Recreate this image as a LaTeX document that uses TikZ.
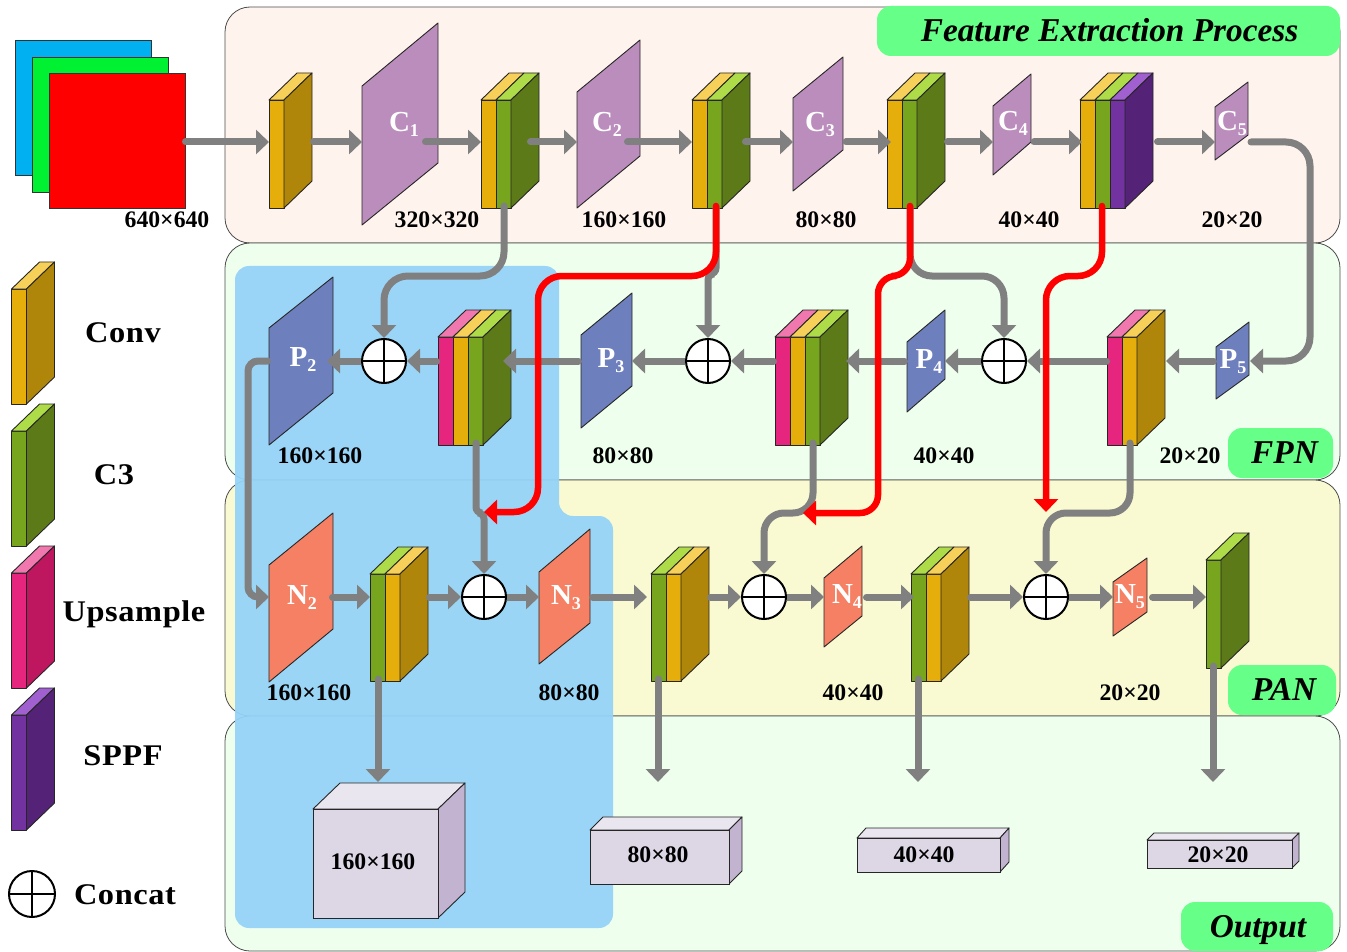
\documentclass[tikz,border=0pt]{standalone}
\usepackage{fontspec}
\setmainfont{Liberation Serif}
\newfontfamily\widefont[FakeStretch=1.08,LetterSpace=2]{Liberation Serif}
\usetikzlibrary{arrows.meta,calc}
\definecolor{oF}{HTML}{E5AE0B}\definecolor{oT}{HTML}{F7D05A}\definecolor{oS}{HTML}{B0860A}
\definecolor{gF}{HTML}{78A51E}\definecolor{gT}{HTML}{AEDC48}\definecolor{gS}{HTML}{5C7A18}
\definecolor{pF}{HTML}{E6257E}\definecolor{pT}{HTML}{F178AF}\definecolor{pS}{HTML}{BE1760}
\definecolor{vF}{HTML}{7232A0}\definecolor{vT}{HTML}{A060CF}\definecolor{vS}{HTML}{542276}
\definecolor{cfill}{HTML}{BB8DBD}\definecolor{pfill}{HTML}{6E7FBD}\definecolor{nfill}{HTML}{F58063}
\definecolor{arrowgray}{HTML}{808080}
\definecolor{tagGreen}{HTML}{66FF88}
\definecolor{blueRegion}{HTML}{95D3F8}
\definecolor{panelA}{HTML}{FFF3EE}\definecolor{panelB}{HTML}{EEFFEE}\definecolor{panelC}{HTML}{F9F9D2}
\definecolor{cubeF}{HTML}{DCD6E5}\definecolor{cubeT}{HTML}{EAE6F0}\definecolor{cubeS}{HTML}{C2B3D0}
\newcommand\fs[1]{\fontsize{#1}{#1}\selectfont}
\tikzset{
  blockline/.style={draw=black!85,line width=0.9pt,line join=round},
  anchorbox/.style={inner sep=0pt,outer sep=0pt,anchor=north west},
  panel/.style={anchorbox,draw=black!70,line width=0.8pt,rounded corners=25pt},
  tag/.style={anchorbox,fill=tagGreen,rounded corners=14pt},
  tagtext/.style={font=\fs{33.3}\bfseries\itshape,inner sep=0pt},
  conn/.style={draw=arrowgray,line width=7pt,line cap=round,-{Triangle[length=13pt,width=24pt]}},
  flat/.style={line cap=butt},
  redconn/.style={draw=red,line width=6.5pt,line cap=round,-{Triangle[length=13pt,width=24pt]}},
  concat/.style={circle,draw=black,line width=2pt,fill=white,minimum size=44pt,inner sep=0pt},
  sizelab/.style={font=\fs{23.7}\bfseries,inner sep=0pt},
  leglab/.style={font=\fs{30}\bfseries\widefont,inner sep=0pt},
  planelab/.style={text=white,font=\fs{29}\bfseries,inner sep=0pt},
}
% name, x, y of back top, front height, layers
\newcommand\mkblock[5]{%
  \foreach \c [count=\i from 0] in {#5}{%
    \pgfmathsetmacro\xa{#2+15*\i}\pgfmathsetmacro\xb{\xa+15}%
    \draw[blockline,fill=\c F] (\xa,#3+27) rectangle (\xb,#3+27+#4);
    \draw[blockline,fill=\c T] (\xa,#3+27) -- ++(28,-27) -- ++(15,0) -- ++(-28,27) -- cycle;
    \xdef\lastx{\xb}\xdef\lastc{\c}%
  }%
  \draw[blockline,fill=\lastc S] (\lastx,#3+27) -- ++(28,-27) -- ++(0,#4) -- ++(-28,27) -- cycle;
  \node[anchorbox,minimum width={(\lastx+28-#2)*1pt},minimum height={(#4+27)*1pt}] (#1) at (#2,#3) {};
}
% name, xl, xr, yl top, yr top, yr bottom, yl bottom, fill
\newcommand\mkplane[8]{%
  \draw[blockline,fill=#8] (#2,#4) -- (#3,#5) -- (#3,#6) -- (#2,#7) -- cycle;
  \node[anchorbox,minimum width={(#3-#2)*1pt},minimum height={(#7-#5)*1pt}] (#1) at (#2,#5) {};
}
\newcommand\lab[2]{#1\raisebox{-5pt}{\fs{18}#2}}
% name, x front left, x front right, back top, front top, bottom, dx
\newcommand\mkcube[7]{%
  \draw[blockline,fill=cubeT] (#2,#5) -- (#2+#7,#4) -- (#3+#7,#4) -- (#3,#5) -- cycle;
  \draw[blockline,fill=cubeS] (#3,#5) -- (#3+#7,#4) -- (#3+#7,#6-#5+#4) -- (#3,#6) -- cycle;
  \node[anchorbox,draw=black!85,line width=0.9pt,fill=cubeF,minimum width={(#3-#2)*1pt},minimum height={(#6-#5)*1pt}] (#1) at (#2,#5) {};
}
\newcommand\mkconcat[4][concat]{%
  \node[#1] (#2) at (#3,#4) {};
  \draw[line width=2pt] (#2.north) -- (#2.south) (#2.west) -- (#2.east);
}
\begin{document}
\begin{tikzpicture}[x=1pt,y=-1pt]
\useasboundingbox (0,0) rectangle (1347,952);
% panels
\node[panel,fill=panelA,minimum width=1115pt,minimum height=236pt] (panelTop) at (225,7) {};
\node[panel,fill=panelB,minimum width=1115pt,minimum height=237pt] (panelFpn) at (225,243) {};
\node[panel,fill=panelC,minimum width=1115pt,minimum height=236pt] (panelPan) at (225,480) {};
\node[panel,fill=panelB,minimum width=1115pt,minimum height=235pt] (panelOut) at (225,716) {};
% blue region
\fill[blueRegion,fill opacity=0.94,rounded corners=14pt] (400,266) -- (559,266) -- (559,516) -- (613,516) -- (613,928) -- (235,928) -- (235,266) -- cycle;
% tags
\node[tag,minimum width=463pt,minimum height=50pt] (tagFeat) at (877,6) {};
\node[tagtext] (tagFeatText) at (1109.5,30.5) {Feature Extraction Process};
\node[tag,minimum width=105pt,minimum height=50pt] (tagFpn) at (1228,428) {};
\node[tagtext] (tagFpnText) at (1284.5,453) {FPN};
\node[tag,minimum width=108pt,minimum height=50pt] (tagPan) at (1228,665) {};
\node[tagtext] (tagPanText) at (1284,690) {PAN};
\node[tag,minimum width=152pt,minimum height=49pt] (tagOut) at (1181,902) {};
\node[tagtext] (tagOutText) at (1258,930) {Output};
% input
\node[anchorbox,draw=black!80,fill={rgb,255:red,0;green,176;blue,240},minimum width=136pt,minimum height=135pt] (inB) at (15,40) {};
\node[anchorbox,draw=black!80,fill={rgb,255:red,0;green,240;blue,50},minimum width=136pt,minimum height=135pt] (inG) at (32,57) {};
\node[anchorbox,draw=black!80,fill=red,minimum width=136pt,minimum height=135pt] (inR) at (49,73) {};
% backbone
\mkblock{b1}{269}{73}{108}{o}
\mkplane{c1}{362}{438}{86}{23}{163}{225}{cfill}
\mkblock{b2}{481}{73}{108}{o,g}
\mkplane{c2}{577}{640}{92}{40}{156}{208}{cfill}
\mkblock{b3}{692}{73}{108}{o,g}
\mkplane{c3}{793}{843}{98}{57}{150}{191}{cfill}
\mkblock{b4}{887}{73}{108}{o,g}
\mkplane{c4}{993}{1031}{106}{74}{142}{175}{cfill}
\mkblock{b5}{1080}{73}{108}{o,g,v}
\mkplane{c5}{1215}{1248}{107}{82}{135}{160}{cfill}
% FPN
\mkplane{p2}{269}{333}{328}{277}{393}{445}{pfill}
\mkblock{f1}{438}{310}{108}{p,o,g}
\mkplane{p3}{581}{632}{335}{293}{386}{428}{pfill}
\mkblock{f2}{775}{310}{108}{p,o,g}
\mkplane{p4}{907}{945}{342}{310}{379}{412}{pfill}
\mkblock{f3}{1107}{310}{108}{p,o}
\mkplane{p5}{1216}{1249}{347}{322}{375}{399}{pfill}
% PAN
\mkplane{n2}{269}{333}{565}{513}{629}{682}{nfill}
\mkblock{a1}{370}{547}{107}{g,o}
\mkplane{n3}{539}{590}{572}{529}{623}{664}{nfill}
\mkblock{a2}{651}{547}{107}{g,o}
\mkplane{n4}{824}{862}{578}{546}{616}{647}{nfill}
\mkblock{a3}{911}{547}{107}{g,o}
\mkplane{n5}{1113}{1147}{582}{558}{612}{636}{nfill}
\mkblock{a4}{1206}{533}{108}{g}
% concat nodes
\mkconcat{k1}{384}{361}
\mkconcat{k2}{708}{361}
\mkconcat{k3}{1004}{361}
\mkconcat{k4}{484}{597}
\mkconcat{k5}{764}{597}
\mkconcat{k6}{1046}{597}
% outputs
\mkcube{o1}{313}{438}{783}{809}{918}{27}
\mkcube{o2}{590}{729}{817}{830}{884}{13}
\mkcube{o3}{857}{1000}{828}{838}{872}{9}
\mkcube{o4}{1147}{1292}{833}{840}{868}{7}
% legend
\mkblock{lg1}{11.5}{262}{115}{o}
\mkblock{lg2}{11.5}{404}{115}{g}
\mkblock{lg3}{11.5}{546}{115}{p}
\mkblock{lg4}{11.5}{688}{115}{v}
\mkconcat[concat,minimum size=46pt]{lg5}{32}{894}
\node[leglab] (lt1) at (123,333) {Conv};
\node[leglab] (lt2) at (114,475) {C3};
\node[leglab] (lt3) at (134,614) {Upsample};
\node[leglab] (lt4) at (123,756) {SPPF};
\node[leglab] (lt5) at (125,895) {Concat};
% row and port coordinates
\coordinate (rowA) at (0,142);
\coordinate (rowB) at (0,361);
\coordinate (rowC) at (0,597);
\coordinate (rowS) at (0,276);
\coordinate (rowT) at (0,513);
\coordinate (cornerR) at (1310,142);
\coordinate (cornerL) at (248,361);
\coordinate (b2s) at (504,206);
\coordinate (b3s) at (716,206);
\coordinate (b4s) at (910,206);
\coordinate (b5s) at (1102,206);
\coordinate (f1s) at (476,443);
\coordinate (f2s) at (813,443);
\coordinate (f3s) at (1130,443);
\coordinate (a1s) at (378,679);
\coordinate (a2s) at (658,679);
\coordinate (a3s) at (918,679);
\coordinate (a4s) at (1213,666);
\coordinate (a1e) at (378,782);
\coordinate (a2e) at (658,782);
\coordinate (a3e) at (918,782);
\coordinate (a4e) at (1213,782);
\coordinate (red1) at (484,512);
\coordinate (red2) at (803,513);
\coordinate (red3) at (1046,512);
% backbone connectors
\draw[conn,shorten <=0.5pt] (inR.east|-rowA) -- (b1.west|-rowA);
\draw[conn,shorten <=1.5pt] (b1.east|-rowA) -- (c1.west|-rowA);
\draw[conn,shorten <=-12.5pt] (c1.east|-rowA) -- (b2.west|-rowA);
\draw[conn,shorten <=-8.5pt] (b2.east|-rowA) -- (c2.west|-rowA);
\draw[conn,shorten <=-12.5pt] (c2.east|-rowA) -- (b3.west|-rowA);
\draw[conn,shorten <=-4.5pt] (b3.east|-rowA) -- (c3.west|-rowA);
\draw[conn,shorten <=3pt] (c3.east|-rowA) -- ([xshift=4pt]b4.west|-rowA);
\draw[conn,shorten <=2.5pt] (b4.east|-rowA) -- (c4.west|-rowA);
\draw[conn,shorten <=3pt] (c4.east|-rowA) -- ([xshift=2pt]b5.west|-rowA);
\draw[conn,shorten <=4.5pt] (b5.east|-rowA) -- (c5.west|-rowA);
\draw[conn,rounded corners=24pt,shorten <=3pt] (c5.east|-rowA) -- (cornerR) -- (cornerR|-rowB) -- ([xshift=1pt]p5.east|-rowB);
% FPN connectors
\draw[conn,shorten <=2.5pt] (p5.west|-rowB) -- ([xshift=1pt]f3.east|-rowB);
\draw[conn,shorten <=0.5pt] (f3.west|-rowB) -- (k3.east);
\draw[conn,flat] (k3.west) -- (p4.east|-rowB);
\draw[conn,shorten <=2.5pt] (p4.west|-rowB) -- ([xshift=-2pt]f2.east|-rowB);
\draw[conn,shorten <=1.5pt] (f2.west|-rowB) -- (k2.east);
\draw[conn,flat] (k2.west) -- (p3.east|-rowB);
\draw[conn,shorten <=2.5pt] (p3.west|-rowB) -- ([xshift=-8pt]f1.east|-rowB);
\draw[conn,shorten <=1.5pt] (f1.west|-rowB) -- (k1.east);
\draw[conn,flat] (k1.west) -- ([xshift=-6pt]p2.east|-rowB);
\draw[conn,rounded corners=10pt,shorten <=1.5pt] (p2.west|-rowB) -- (cornerL) -- (cornerL|-rowC) -- (n2.west|-rowC);
% skip connectors
\draw[conn,rounded corners=24pt] (b2s) -- (b2s|-rowS) -- (k1.north|-rowS) -- (k1.north);
\draw[conn,rounded corners=6pt] (b3s) -- ([yshift=2pt]b3s|-rowS) -- ([yshift=2pt]k2.north|-rowS) -- (k2.north);
\draw[conn,rounded corners=22pt] (b4s) -- (b4s|-rowS) -- (k3.north|-rowS) -- (k3.north);
\draw[conn,rounded corners=6pt] (f1s) -- (f1s|-rowT) -- (k4.north|-rowT) -- (k4.north);
\draw[conn,rounded corners=20pt] (f2s) -- (f2s|-rowT) -- (k5.north|-rowT) -- (k5.north);
\draw[conn,rounded corners=20pt] (f3s) -- (f3s|-rowT) -- (k6.north|-rowT) -- (k6.north);
% red connectors
\draw[redconn,rounded corners=24pt] (b3s) -- (b3s|-rowS) -- (538,276) -- (538,512) -- (red1);
\draw[redconn,rounded corners=18pt] (b4s) -- (b4s|-rowS) -- (878,276) -- (878,513) -- (red2);
\draw[redconn,rounded corners=24pt] (b5s) -- (b5s|-rowS) -- (1046,276) -- (red3);
% PAN connectors
\draw[conn,shorten <=-0.5pt] (n2.east|-rowC) -- (a1.west|-rowC);
\draw[conn,shorten <=1.5pt] (a1.east|-rowC) -- (k4.west);
\draw[conn,flat] (k4.east) -- (n3.west|-rowC);
\draw[conn,shorten <=2.5pt] (n3.east|-rowC) -- ([xshift=-4pt]a2.west|-rowC);
\draw[conn,shorten <=1.5pt] (a2.east|-rowC) -- (k5.west);
\draw[conn,flat] (k5.east) -- (n4.west|-rowC);
\draw[conn,shorten <=4.5pt] (n4.east|-rowC) -- ([xshift=3pt]a3.west|-rowC);
\draw[conn,shorten <=1.5pt] (a3.east|-rowC) -- (k6.west);
\draw[conn,flat] (k6.east) -- (n5.west|-rowC);
\draw[conn,shorten <=5.5pt] (n5.east|-rowC) -- (a4.west|-rowC);
% outputs
\draw[conn] (a1s) -- (a1e);
\draw[conn] (a2s) -- (a2e);
\draw[conn] (a3s) -- (a3e);
\draw[conn] (a4s) -- (a4e);
% plane labels
\node[planelab] (lc1) at (404,124) {\lab{C}{1}};
\node[planelab] (lc2) at (607,124) {\lab{C}{2}};
\node[planelab] (lc3) at (820,124) {\lab{C}{3}};
\node[planelab] (lc4) at (1013,123) {\lab{C}{4}};
\node[planelab] (lc5) at (1232,123) {\lab{C}{5}};
\node[planelab] (lp2) at (303,360) {\lab{P}{2}};
\node[planelab] (lp3) at (611,361) {\lab{P}{3}};
\node[planelab] (lp4) at (929,362) {\lab{P}{4}};
\node[planelab] (lp5) at (1233,362) {\lab{P}{5}};
\node[planelab] (ln2) at (302,598) {\lab{N}{2}};
\node[planelab] (ln3) at (566,598) {\lab{N}{3}};
\node[planelab] (ln4) at (847,597) {\lab{N}{4}};
\node[planelab] (ln5) at (1130,597) {\lab{N}{5}};
% size labels
\node[sizelab] (s1) at (167,220) {640×640};
\node[sizelab] (s2) at (437,220) {320×320};
\node[sizelab] (s3) at (624,220) {160×160};
\node[sizelab] (s4) at (826,220) {80×80};
\node[sizelab] (s5) at (1029,220) {40×40};
\node[sizelab] (s6) at (1232,220) {20×20};
\node[sizelab] (s7) at (320,456) {160×160};
\node[sizelab] (s8) at (623,456) {80×80};
\node[sizelab] (s9) at (944,456) {40×40};
\node[sizelab] (s10) at (1190,456) {20×20};
\node[sizelab] (s11) at (309,693) {160×160};
\node[sizelab] (s12) at (569,693) {80×80};
\node[sizelab] (s13) at (853,693) {40×40};
\node[sizelab] (s14) at (1130,693) {20×20};
\node[sizelab] (s15) at (373,862) {160×160};
\node[sizelab] (s16) at (658,855) {80×80};
\node[sizelab] (s17) at (924,855) {40×40};
\node[sizelab] (s18) at (1218,855) {20×20};
\end{tikzpicture}
\end{document}
